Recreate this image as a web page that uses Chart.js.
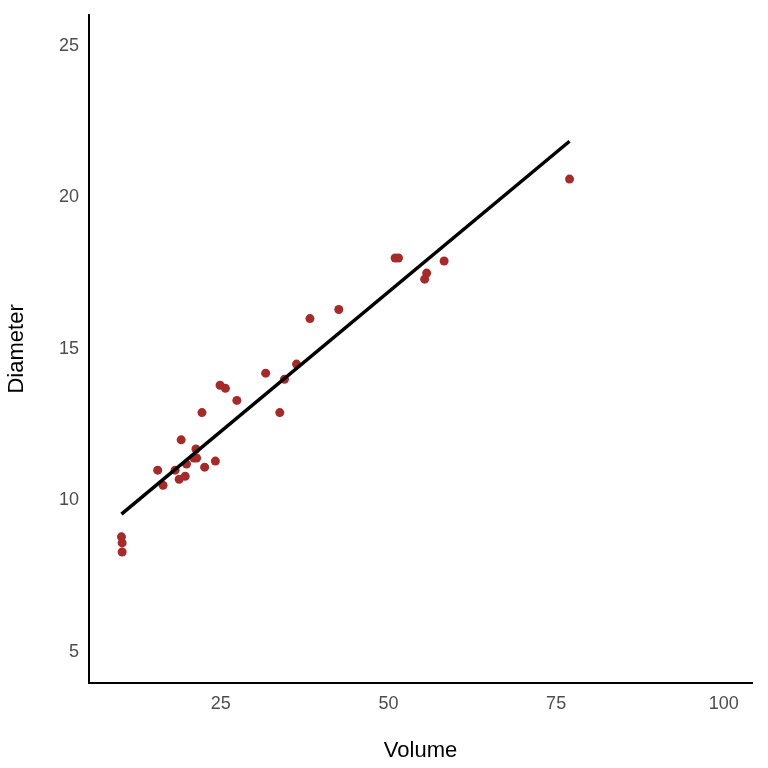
<!DOCTYPE html>
<html><head><meta charset="utf-8">
<script src="https://cdn.jsdelivr.net/npm/chart.js@4"></script>
<style>html,body{margin:0;padding:0;background:#fff}#w{width:768px;height:768px}</style>
</head><body><div id="w"><canvas id="c"></canvas></div>
<script>
const volume=[10.3,10.3,10.2,16.4,18.8,19.7,15.6,18.2,22.6,19.9,24.2,21.0,21.4,21.3,19.1,22.2,33.8,27.4,25.7,24.9,34.5,31.7,36.3,38.3,42.6,55.4,55.7,58.3,51.5,51.0,77.0];
const diameter=[8.3,8.6,8.8,10.5,10.7,10.8,11.0,11.0,11.1,11.2,11.3,11.4,11.4,11.7,12.0,12.9,12.9,13.3,13.7,13.8,14.0,14.2,14.5,16.0,16.3,17.3,17.5,17.9,18.0,18.0,20.6];
const fitX=[10.2,77.0];
const fitY=[9.55,21.85];
const xTicks=[25,50,75,100];
const yTicks=[5,10,15,20,25];
new Chart(document.getElementById('c'),{
type:'scatter',
data:{datasets:[
{data:volume.map((v,i)=>({x:v,y:diameter[i]})),backgroundColor:'#a52a2a',borderWidth:0,pointRadius:4.5,order:2},
{type:'line',data:fitX.map((v,i)=>({x:v,y:fitY[i]})),borderColor:'#000',borderWidth:3.5,pointRadius:0,order:1}
]},
options:{responsive:true,maintainAspectRatio:false,animation:false,
layout:{padding:{left:0,top:14,right:16,bottom:0}},
plugins:{legend:{display:false},tooltip:{enabled:false}},
scales:{
x:{type:'linear',min:5.36,max:104.2,afterBuildTicks:s=>{s.ticks=xTicks.map(v=>({value:v}))},
afterFit:s=>{s.height=85},
grid:{display:false,drawTicks:true,tickLength:6,tickColor:'#333'},border:{color:'#000',width:2},
ticks:{color:'#4d4d4d',font:{size:18,family:'Liberation Sans'},padding:4},
title:{display:true,text:'Volume',color:'#000',font:{size:22,family:'Liberation Sans'},padding:{top:2}}},
y:{type:'linear',min:3.98,max:26.02,afterBuildTicks:s=>{s.ticks=yTicks.map(v=>({value:v}))},
afterFit:s=>{s.width=89},
grid:{display:false,drawTicks:true,tickLength:6,tickColor:'#333'},border:{color:'#000',width:2},
ticks:{color:'#4d4d4d',font:{size:18,family:'Liberation Sans'},padding:4},
title:{display:true,text:'Diameter',color:'#000',font:{size:22,family:'Liberation Sans'},padding:{bottom:4}}}
}}});
</script></body></html>
